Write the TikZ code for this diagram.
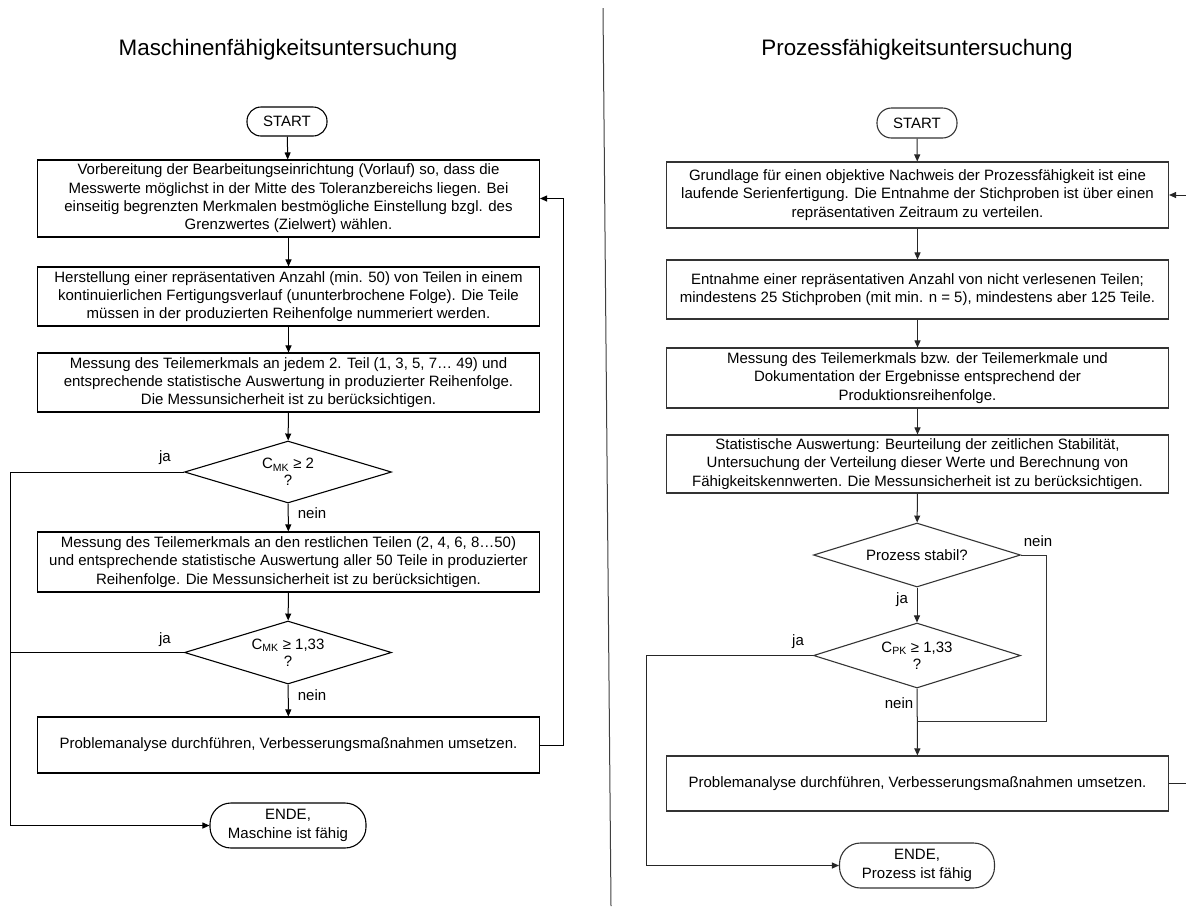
\documentclass[tikz,border=0pt]{standalone}
\usepackage{fontspec}
\setmainfont{Liberation Sans}
\usetikzlibrary{arrows.meta,shapes.geometric}
\newcommand\bodyfont{\fontsize{15}{18.3}\selectfont}
\newcommand\decfont{\fontsize{15}{17}\selectfont}
\newcommand\titlefont{\fontsize{22.4}{26}\selectfont}
\begin{document}
\begin{tikzpicture}[x=1pt,y=-1pt,
  box/.style={draw=#1, line width=1.1pt, minimum width=502pt, align=center, inner sep=0pt, font=\bodyfont},
  box/.default=black,
  dec/.style={draw=#1, line width=1.1pt, diamond, aspect=3.3, inner sep=0pt, minimum width=207pt, align=center, font=\decfont},
  dec/.default=black,
  term/.style={draw=#1, line width=1.1pt, rectangle, align=center, inner sep=0pt, font=\bodyfont},
  term/.default=black,
  lbl/.style={font=\bodyfont, inner sep=0pt},
  conn/.style={draw=#1, line width=1pt},
  conn/.default=black,
  arr/.style={conn=#1, -{Triangle[length=7pt,width=6pt]}},
  arr/.default=black
]
\useasboundingbox (0,0) rectangle (1186,906);

% divider
\draw[black!75, line width=1pt] (603,8) -- (611,906);

% ================= LEFT =================
\node[font=\titlefont] (titleL) at (288,50) {Maschinenfähigkeitsuntersuchung};
\node[term, minimum width=80pt, minimum height=29pt, rounded corners=14pt] (startL) at (287,121.5) {START};
\node[box, minimum height=77pt] (L1) at (288.5,198.5) {Vorbereitung der Bearbeitungseinrichtung (Vorlauf) so, dass die\\Messwerte möglichst in der Mitte des Toleranzbereichs liegen. Bei\\einseitig begrenzten Merkmalen bestmögliche Einstellung bzgl. des\\Grenzwertes (Zielwert) wählen.};
\node[box, minimum height=59pt] (L2) at (288.5,296.5) {Herstellung einer repräsentativen Anzahl (min. 50) von Teilen in einem\\kontinuierlichen Fertigungsverlauf (ununterbrochene Folge). Die Teile\\müssen in der produzierten Reihenfolge nummeriert werden.};
\node[box, minimum height=59pt] (L3) at (288.5,382.5) {Messung des Teilemerkmals an jedem 2. Teil (1, 3, 5, 7\dots\ 49) und\\entsprechende statistische Auswertung in produzierter Reihenfolge.\\Die Messunsicherheit ist zu berücksichtigen.};
\node[dec, minimum height=62pt] (DL1) at (288,472) {C\textsubscript{MK} ≥ 2\\?};
\node[box, minimum height=60pt] (L4) at (288.5,562) {Messung des Teilemerkmals an den restlichen Teilen (2, 4, 6, 8\dots50)\\und entsprechende statistische Auswertung aller 50 Teile in produzierter\\Reihenfolge. Die Messunsicherheit ist zu berücksichtigen.};
\node[dec, minimum height=63pt] (DL2) at (288,652.5) {C\textsubscript{MK} ≥ 1,33\\?};
\node[box, minimum height=56pt] (L5) at (288.5,745) {Problemanalyse durchführen, Verbesserungsmaßnahmen umsetzen.};
\node[term, minimum width=156pt, minimum height=45pt, rounded corners=21pt] (endL) at (288,825.5) {ENDE,\\Maschine ist fähig};

\draw[arr] (startL) -- (L1);
\draw[arr] (L1) -- (L2);
\draw[arr] (L2) -- (L3);
\draw[arr] (L3) -- (DL1);
\draw[arr] (DL1) -- (L4);
\draw[arr] (L4) -- (DL2);
\draw[arr] (DL2) -- (L5);
\coordinate (cL1) at (10,472);
\coordinate (cL2) at (10,652.5);
\coordinate (fbL) at (563,745);
\draw[arr] (DL1.west) -- (cL1) |- (endL.west);
\draw[conn] (DL2.west) -- (cL2);
\draw[arr] (L5.east) -- (fbL) |- (L1.east);
\node[lbl] (jaL1) at (165,458) {ja};
\node[lbl] (neinL1) at (312,513) {nein};
\node[lbl] (jaL2) at (165,640) {ja};
\node[lbl] (neinL2) at (312,695) {nein};

% ================= RIGHT =================
\node[font=\titlefont] (titleR) at (917,50) {Prozessfähigkeitsuntersuchung};
\node[term=black!80, minimum width=80pt, minimum height=30pt, rounded corners=14.5pt] (startR) at (917,123) {START};
\node[box=black!80, minimum height=66pt] (R1) at (917.5,195) {Grundlage für einen objektive Nachweis der Prozessfähigkeit ist eine\\laufende Serienfertigung. Die Entnahme der Stichproben ist über einen\\repräsentativen Zeitraum zu verteilen.};
\node[box=black!80, minimum height=59pt] (R2) at (917.5,289.5) {Entnahme einer repräsentativen Anzahl von nicht verlesenen Teilen;\\mindestens 25 Stichproben (mit min. n = 5), mindestens aber 125 Teile.};
\node[box=black!80, minimum height=60pt] (R3) at (917.5,378) {Messung des Teilemerkmals bzw. der Teilemerkmale und\\Dokumentation der Ergebnisse entsprechend der\\Produktionsreihenfolge.};
\node[box=black!80, minimum height=58pt] (R4) at (917.5,464) {Statistische Auswertung: Beurteilung der zeitlichen Stabilität,\\Untersuchung der Verteilung dieser Werte und Berechnung von\\Fähigkeitskennwerten. Die Messunsicherheit ist zu berücksichtigen.};
\node[dec=black!80, minimum height=64pt] (DR1) at (917,555) {Prozess stabil?};
\node[dec=black!80, minimum height=65pt] (DR2) at (917,655.5) {C\textsubscript{PK} ≥ 1,33\\?};
\node[box=black!80, minimum height=55pt] (R5) at (917.5,783.5) {Problemanalyse durchführen, Verbesserungsmaßnahmen umsetzen.};
\node[term=black!80, minimum width=155pt, minimum height=45pt, rounded corners=21pt] (endR) at (917,865.5) {ENDE,\\Prozess ist fähig};

\draw[arr=black!85] (startR) -- (R1);
\draw[arr=black!85] (R1) -- (R2);
\draw[arr=black!85] (R2) -- (R3);
\draw[arr=black!85] (R3) -- (R4);
\draw[arr=black!85] (R4) -- (DR1);
\draw[arr=black!85] (DR1) -- (DR2);
\draw[arr=black!85] (DR2) -- (R5);
\coordinate (cR1a) at (1046,555);
\coordinate (cR1b) at (1046,721);
\coordinate (cR1c) at (917,721);
\draw[conn=black!80] (DR1.east) -- (cR1a) -- (cR1b) -- (cR1c);
\coordinate (cR2) at (646,655.5);
\draw[arr=black!85] (DR2.west) -- (cR2) |- (endR.west);
\coordinate (fbR) at (1189,783.5);
\draw[arr=black!85] (R5.east) -- (fbR) |- (R1.east);
\node[lbl] (neinR1) at (1038,541) {nein};
\node[lbl] (jaR1) at (902,600) {ja};
\node[lbl] (jaR2) at (798,642) {ja};
\node[lbl] (neinR2) at (899,703) {nein};
\end{tikzpicture}
\end{document}
